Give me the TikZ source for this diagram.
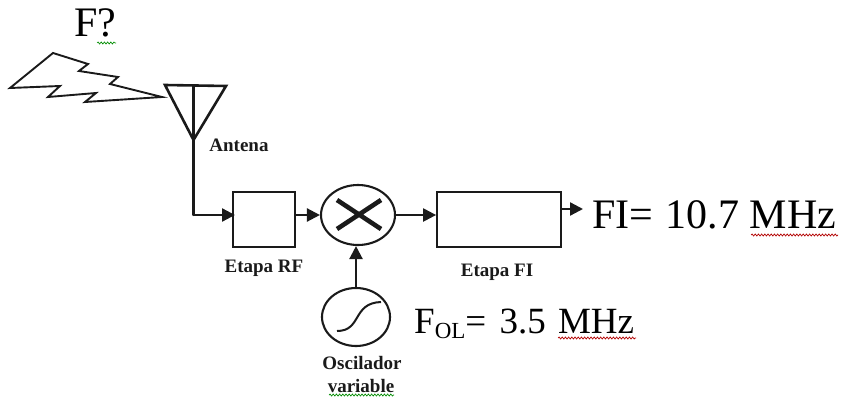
\documentclass[tikz,border=0pt]{standalone}
\usepackage{fontspec}
\setmainfont{Liberation Serif}
\usetikzlibrary{arrows.meta,shapes.geometric,decorations.pathmorphing}
\definecolor{ink}{HTML}{1A1A1A}
\tikzset{
  wire/.style={draw=ink,line width=2.3pt},
  conn/.style={wire,-{Triangle[length=13pt,width=13pt]}},
  blockbox/.style={draw=ink,line width=1.8pt,rectangle,inner sep=0pt,minimum height=55pt},
  round/.style={draw=ink,line width=2.1pt,ellipse,inner sep=0pt},
  biglabel/.style={anchor=base west,inner sep=0pt,font=\fontsize{42}{42}\selectfont,text=black},
  midlabel/.style={anchor=base west,inner sep=0pt,font=\fontsize{37}{37}\selectfont,text=black},
  smalllabel/.style={anchor=base,inner sep=0pt,font=\fontsize{19}{19}\selectfont\bfseries,text=ink},
  squiggle/.style={line width=0.7pt,decorate,decoration={snake,amplitude=1pt,segment length=3.2pt}}
}
\begin{document}
\begin{tikzpicture}[x=1pt,y=-1pt]
\useasboundingbox (0,0) rectangle (842,396);
% lightning bolt
\draw[draw=ink,line width=1.9pt,miter limit=20] (10,88) -- (53,53) -- (88,64) -- (79,71) -- (118,77) -- (110,84) -- (162,97) -- (85,102) -- (96,93) -- (48,97) -- (60,86) -- cycle;
% antenna
\coordinate (antL) at (165,85);
\coordinate (antR) at (226,86);
\coordinate (antB) at (193.5,140);
\coordinate (antT) at (193.5,85.5);
\coordinate (bend) at (193.5,215);
\draw[draw=ink,line width=2.6pt,line join=miter] (antL) -- (antR) -- (antB) -- cycle;
% blocks
\node[blockbox,minimum width=62pt] (rf) at (264,219.5) {};
\node[blockbox,minimum width=124pt] (fi) at (499,219.5) {};
\node[round,minimum width=74pt,minimum height=60pt] (mix) at (358,215) {};
\node[round,minimum width=68pt,minimum height=58pt] (osc) at (356,317) {};
\coordinate (rfin) at (235,215);
\coordinate (fiout) at (583,209);
\coordinate (fioutS) at (561,209);
% connectors
\draw[wire,line cap=round] (antT) -- (bend);
\draw[conn] (bend) -- (rfin);
\draw[conn] (rf.east |- mix.west) -- (mix.west);
\draw[conn] (mix.east) -- (fi.west |- mix.east);
\draw[conn] (fioutS) -- (fiout);
\draw[conn] (osc.north) -- (mix.south -| osc.north);
% mixer cross
\draw[draw=ink,line width=4.6pt] (337,200) -- (381,229) (337,229) -- (381,200);
% oscillator curve
\draw[draw=ink,line width=2pt] (337,331) .. controls (362,331) and (352,303) .. (381,302);
% labels
\node[biglabel] (fq) at (74,37) {F?};
\node[biglabel] (fival) at (592,228) {FI=\hspace{2pt} 10.7 MHz};
\node[midlabel] (fol) at (414,333) {F\raisebox{-5pt}{\fontsize{23}{23}\selectfont OL}=\hspace{4pt} 3.5\hspace{3pt} MHz};
\node[smalllabel] (ant) at (239,151) {Antena};
\node[smalllabel] (erf) at (264,272) {Etapa RF};
\node[smalllabel] (efi) at (497,276) {Etapa FI};
\node[smalllabel] (osc1) at (362,369) {Oscilador};
\node[smalllabel] (osc2) at (361,392) {variable};
% proofing marks
\draw[squiggle,draw=green!55!black] (97,43) -- (116,43);
\draw[squiggle,draw=green!55!black] (329,395) -- (394,395);
\draw[squiggle,draw=red!70!black] (751,235) -- (838,235);
\draw[squiggle,draw=red!70!black] (558,338) -- (636,338);
\end{tikzpicture}
\end{document}
